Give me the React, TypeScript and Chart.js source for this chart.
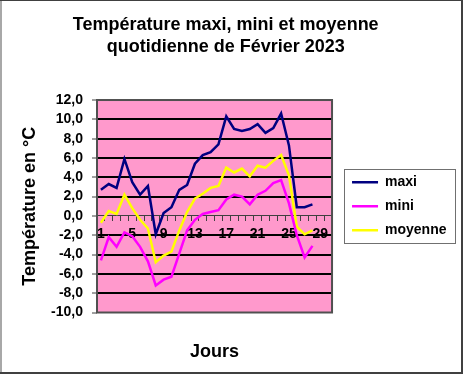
import React, { useEffect, useRef } from 'react';
import { Chart, registerables } from 'chart.js';

Chart.register(...registerables);

const days = ['1', '2', '3', '4', '5', '6', '7', '8', '9', '10', '11', '12', '13', '14', '15', '16', '17', '18', '19', '20', '21', '22', '23', '24', '25', '26', '27', '28', '29', '30'];
const shownDays = ['1', '5', '9', '13', '17', '21', '25', '29'];

const maxi = [2.7, 3.3, 2.9, 5.9, 3.5, 2.2, 3.1, -1.9, 0.3, 0.9, 2.7, 3.2, 5.4, 6.3, 6.6, 7.4, 10.3, 9.0, 8.8, 9.0, 9.5, 8.6, 9.1, 10.6, 7.3, 0.9, 0.9, 1.2, null, null];
const mini = [-4.6, -2.2, -3.2, -1.7, -2.1, -3.2, -4.7, -7.2, -6.6, -6.3, -3.9, -1.5, -0.4, 0.2, 0.4, 0.6, 1.7, 2.2, 2.0, 1.2, 2.2, 2.6, 3.4, 3.7, 1.3, -2.0, -4.3, -3.1, null, null];
const moyenne = [-0.7, 0.5, 0.2, 2.2, 0.8, -0.4, -1.3, -4.8, -4.1, -3.7, -1.5, 0.4, 1.8, 2.3, 2.9, 3.1, 5.0, 4.5, 4.9, 4.1, 5.2, 5.0, 5.7, 6.3, 4.2, -1.1, -1.9, -1.5, null, null];

const yMin = -10;
const yMax = 12;
const yStep = 2;

const FAMILY = "'Liberation Sans', Arial, Helvetica, sans-serif";

const decor = {
  id: 'decor',
  beforeDraw(chart: any) {
    const { ctx, chartArea: a } = chart;
    ctx.save();
    ctx.fillStyle = '#ffffff';
    ctx.fillRect(0, 0, chart.width, chart.height);
    ctx.fillStyle = '#FF99CC';
    ctx.fillRect(a.left, a.top, a.right - a.left, a.bottom - a.top);
    ctx.restore();
  },
  afterDraw(chart: any) {
    const { ctx, chartArea: a } = chart;
    ctx.save();
    ctx.strokeStyle = '#505050';
    ctx.lineWidth = 2;
    ctx.strokeRect(a.left, a.top, a.right - a.left, a.bottom - a.top);
    const lg = chart.legend;
    if (lg && lg.legendHitBoxes && lg.legendHitBoxes.length) {
      const hb = lg.legendHitBoxes;
      const l = Math.min(...hb.map((h: any) => h.left)) - 8;
      const r = Math.max(...hb.map((h: any) => h.left + h.width)) + 9;
      const t = Math.min(...hb.map((h: any) => h.top)) - 6;
      const b = Math.max(...hb.map((h: any) => h.top + h.height)) + 6;
      ctx.strokeStyle = '#707070';
      ctx.lineWidth = 1;
      ctx.strokeRect(Math.round(l) + 0.5, Math.round(t) + 0.5, Math.round(r - l), Math.round(b - t));
    }
    const W = chart.width;
    const H = chart.height;
    ctx.fillStyle = '#a8a8a8';
    ctx.fillRect(0, 0, 2, H);
    ctx.fillStyle = '#404040';
    ctx.fillRect(0, 0, W, 1);
    ctx.fillRect(W - 2, 0, 2, H);
    ctx.fillRect(0, H - 2, W, 2);
    ctx.restore();
  },
};

export default function App() {
  const ref = useRef<HTMLCanvasElement>(null);

  useEffect(() => {
    document.body.style.margin = '0';
    Chart.defaults.font.family = FAMILY;
    const tickFont = { family: FAMILY, size: 14, weight: 'bold' as const };
    const chart = new Chart(ref.current as HTMLCanvasElement, {
      type: 'line',
      data: {
        labels: days,
        datasets: [
          { label: 'maxi', data: maxi, borderColor: '#000080', backgroundColor: '#000080', borderWidth: 2.5, pointRadius: 0, tension: 0, fill: false, xAxisID: 'x', yAxisID: 'y' },
          { label: 'mini', data: mini, borderColor: '#FF00FF', backgroundColor: '#FF00FF', borderWidth: 2.5, pointRadius: 0, tension: 0, fill: false, xAxisID: 'x', yAxisID: 'y' },
          { label: 'moyenne', data: moyenne, borderColor: '#FFFF00', backgroundColor: '#FFFF00', borderWidth: 2.5, pointRadius: 0, tension: 0, fill: false, xAxisID: 'x', yAxisID: 'y' },
        ],
      },
      options: {
        responsive: false,
        animation: false,
        devicePixelRatio: 1,
        layout: { padding: { top: 0, left: -5, right: 6.5, bottom: 0 } },
        plugins: {
          tooltip: { enabled: false },
          title: {
            display: true,
            text: ['Température maxi, mini et moyenne', 'quotidienne de Février 2023'],
            color: '#000',
            font: { family: FAMILY, size: 18, weight: 'bold', lineHeight: 1.17 },
            padding: { top: 15, bottom: 42.9 },
          },
          legend: {
            position: 'right',
            fullSize: false,
            maxWidth: 300,
            labels: {
              usePointStyle: true,
              pointStyle: 'line',
              pointStyleWidth: 26,
              color: '#000',
              padding: 10,
              font: { family: FAMILY, size: 14, weight: 'bold' },
            },
          },
        },
        scales: {
          x: {
            type: 'category',
            axis: 'x',
            position: { y: 0 },
            offset: true,
            grid: { drawOnChartArea: false, drawTicks: true, tickLength: 5, offset: true, tickColor: '#404040', tickWidth: 1 },
            border: { display: true, color: '#404040', width: 1 },
            ticks: {
              autoSkip: false,
              maxRotation: 0,
              minRotation: 0,
              padding: 5,
              color: '#000',
              font: tickFont,
              callback: (_v: any, i: number) => (shownDays.includes(days[i]) ? days[i] : ''),
            },
          },
          x2: {
            type: 'category',
            axis: 'x',
            position: 'bottom',
            grid: { display: false, drawTicks: false },
            border: { display: false },
            ticks: { display: false },
            title: {
              display: true,
              text: 'Jours',
              color: '#000',
              font: { family: FAMILY, size: 18, weight: 'bold' },
              padding: { top: 0, bottom: 11.4 },
            },
            afterFit: (s: any) => { s.height = 61.5; },
          },
          y: {
            type: 'linear',
            position: 'left',
            min: yMin,
            max: yMax,
            ticks: {
              stepSize: yStep,
              autoSkip: false,
              padding: 9,
              color: '#000',
              font: tickFont,
              callback: (v: any) => Number(v).toFixed(1).replace('.', ','),
            },
            grid: {
              color: (c: any) => {
                const v = c.tick ? c.tick.value : null;
                return v === 0 || v === yMax || v === yMin ? 'rgba(0,0,0,0)' : '#000000';
              },
              lineWidth: 2,
              drawTicks: true,
              tickLength: 5,
              tickColor: '#404040',
              tickWidth: 1,
            },
            border: { display: false },
            title: {
              display: true,
              text: 'Température en °C',
              color: '#000',
              font: { family: FAMILY, size: 18, weight: 'bold' },
              padding: { top: 24.7, bottom: 0 },
            },
            afterFit: (s: any) => { s.width = 102; },
          },
          y2: {
            type: 'linear',
            axis: 'y',
            position: 'right',
            min: 0,
            max: 1,
            grid: { display: false, drawTicks: false },
            border: { display: false },
            ticks: { display: false },
            afterFit: (s: any) => { s.width = 10; },
          },
        },
      },
      plugins: [decor],
    } as any);
    return () => chart.destroy();
  }, []);

  return (
    <div style={{ width: 463, height: 374 }}>
      <canvas ref={ref} width={463} height={374} style={{ display: 'block', width: 463, height: 374 }} />
    </div>
  );
}
